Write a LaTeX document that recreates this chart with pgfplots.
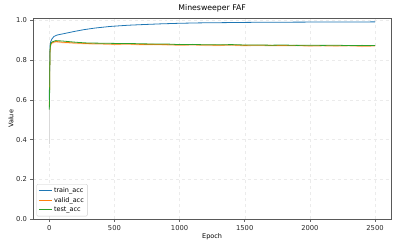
\documentclass[border=0pt]{standalone}
\usepackage{pgfplots}
\pgfplotsset{compat=1.18}
\usepackage{fontspec}
\setmainfont{DejaVu Sans}
\definecolor{tabblue}{HTML}{1F77B4}
\definecolor{taborange}{HTML}{FF7F0E}
\definecolor{tabgreen}{HTML}{2CA02C}
\begin{document}
\begin{tikzpicture}
\pgfresetboundingbox
\useasboundingbox (-33bp,-29.7bp) rectangle (366bp,219.3bp);
\begin{axis}[
  at={(0,0)}, anchor=south west,
  scale only axis, width=358.3bp, height=200.8bp,
  xmin=-125, xmax=2625, ymin=0, ymax=1.008,
  xtick={0,500,1000,1500,2000,2500},
  ytick={0,0.2,0.4,0.6,0.8,1.0},
  xticklabel style={/pgf/number format/.cd,1000 sep={}},
  yticklabel style={/pgf/number format/.cd,fixed,fixed zerofill,precision=1},
  /pgf/number format/assume math mode=true,
  tick label style={font=\fontsize{6.8}{7}\selectfont, text=black!85},
  label style={font=\fontsize{6.5}{7}\selectfont},
  title style={font=\fontsize{7.8}{9}\selectfont, yshift=-3bp},
  title={Minesweeper FAF},
  xlabel={Epoch}, ylabel={Value},
  xlabel style={yshift=4bp},
  ylabel style={yshift=-4bp},
  axis line style={black!65, line width=0.7pt},
  tick align=outside, tick pos=left,
  major tick length=2.5bp,
  tick style={black!60, line width=0.5pt},
  grid=major, grid style={dashed, black!8, line width=0.4pt},
  legend style={font=\fontsize{6.5}{7.5}\selectfont, draw=black!20, rounded corners=1pt, inner sep=1.5pt, row sep=-1pt, at={(0.01,0.015)}, anchor=south west},
  legend cell align=left,
  legend image code/.code={\draw[#1, line width=1pt] (0cm,0cm) -- (0.45cm,0cm);},
  every axis plot/.append style={line width=0.8pt},
]
\addplot[black!15, line width=0.5pt, forget plot] coordinates {(0,0.38)(0,0.56)};
\addplot[tabblue] coordinates {
(0,0.60)(2,0.72)(4,0.83)(6,0.87)(10,0.89)(20,0.905)(36,0.918)(60,0.925)(112,0.932)(200,0.944)(266,0.952)(350,0.960)(465,0.968)(600,0.974)(700,0.977)(850,0.981)(1000,0.984)(1150,0.986)(1300,0.987)(1600,0.989)(2000,0.990)(2500,0.991)};
\addlegendentry{train\_acc}
\addplot[taborange!30, line width=1.3pt, forget plot] coordinates {
(10,0.87)(20,0.884)(50,0.890)(100,0.887)(150,0.886)(200,0.883)(300,0.881)(400,0.880)(500,0.877)(600,0.879)(700,0.876)(800,0.877)(900,0.875)(1000,0.874)(1100,0.875)(1200,0.873)(1300,0.873)(1400,0.874)(1500,0.871)(1600,0.873)(1700,0.871)(1800,0.871)(1900,0.872)(2000,0.869)(2100,0.871)(2200,0.869)(2300,0.871)(2400,0.868)(2500,0.870)};
\addplot[taborange] coordinates {
(0,0.57)(2,0.62)(4,0.76)(6,0.84)(10,0.875)(20,0.886)(50,0.893)(100,0.889)(150,0.887)(200,0.885)(300,0.882)(400,0.881)(500,0.879)(600,0.880)(700,0.878)(800,0.878)(900,0.877)(1000,0.875)(1100,0.876)(1200,0.875)(1300,0.874)(1400,0.875)(1500,0.873)(1600,0.874)(1700,0.873)(1800,0.872)(1900,0.873)(2000,0.871)(2100,0.872)(2200,0.871)(2300,0.872)(2400,0.870)(2500,0.871)};
\addlegendentry{valid\_acc}
\addplot[tabgreen] coordinates {
(0,0.55)(2,0.60)(4,0.76)(6,0.85)(10,0.880)(20,0.890)(50,0.897)(100,0.895)(150,0.892)(200,0.889)(266,0.886)(300,0.885)(400,0.884)(500,0.883)(600,0.883)(700,0.881)(800,0.880)(900,0.880)(1000,0.877)(1100,0.878)(1200,0.876)(1300,0.876)(1400,0.877)(1500,0.875)(1600,0.875)(1700,0.874)(1800,0.875)(1900,0.873)(2000,0.874)(2100,0.873)(2200,0.874)(2300,0.872)(2400,0.873)(2500,0.872)};
\addlegendentry{test\_acc}
\end{axis}
\end{tikzpicture}
\end{document}
